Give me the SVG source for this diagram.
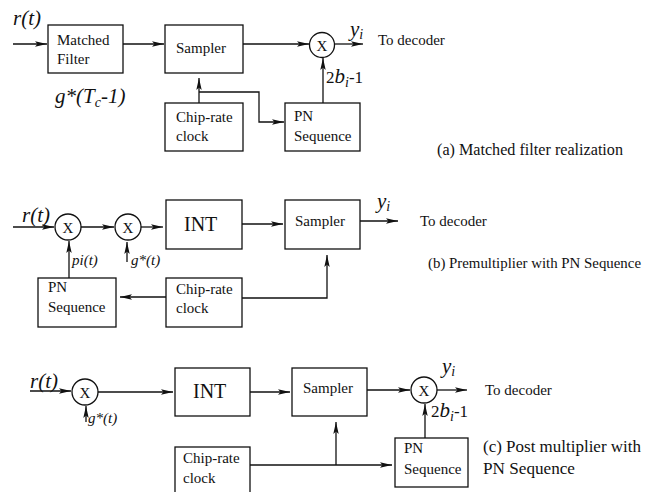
<svg xmlns="http://www.w3.org/2000/svg" width="652" height="492" viewBox="0 0 652 492">
<defs>
<marker id="ah" markerUnits="userSpaceOnUse" markerWidth="13" markerHeight="7" refX="12" refY="3.5" orient="auto">
<path d="M0,0.8 L12,3.5 L0,6.2 L2.5,3.5 z" fill="#111"/>
</marker>
<style>
.box{fill:none;stroke:#111;stroke-width:1.3}
.ar{fill:none;stroke:#111;stroke-width:1.3;marker-end:url(#ah)}
.t{font-family:"Liberation Serif",serif;font-size:15px;fill:#111}
.cap{font-family:"Liberation Serif",serif;font-size:16px;fill:#111}
.it{font-family:"Liberation Serif",serif;font-style:italic;font-size:21px;fill:#111}
.its{font-family:"Liberation Serif",serif;font-style:italic;font-size:15px;fill:#111}
.big{font-family:"Liberation Serif",serif;font-size:20px;fill:#111}
.x{font-family:"Liberation Serif",serif;font-size:15px;fill:#111;text-anchor:middle}
.sub{font-size:14px}
.bits{font-family:"Liberation Serif",serif;font-size:17px;fill:#111}
.bi{font-style:italic;font-size:21px}
.bsub{font-style:italic;font-size:14px}
</style>
</defs>
<rect width="652" height="492" fill="#fff"/>

<!-- (a) Matched filter realization -->
<g id="a-input"><text class="it" x="13" y="25">r(t)</text></g>
<g id="a-matched-filter"><rect class="box" x="48" y="25" width="75" height="48"/><text class="t" x="57" y="45">Matched</text><text class="t" x="57" y="64">Filter</text></g>
<g id="a-gt"><text class="it" x="55" y="103">g*(T<tspan class="sub" dy="4">c</tspan><tspan dy="-4">-1)</tspan></text></g>
<g id="a-sampler"><rect class="box" x="165" y="25" width="78" height="48"/><text class="t" x="176" y="53">Sampler</text></g>
<g id="a-mult"><circle class="box" cx="322" cy="45" r="12.5"/><text class="x" x="322" y="50.5">X</text></g>
<g id="a-yi"><text class="it" x="350" y="36">y<tspan class="sub" dy="3">i</tspan></text></g>
<g id="a-out"><text class="t" x="378" y="45">To decoder</text></g>
<g id="a-clock"><rect class="box" x="165" y="103" width="78" height="48"/><text class="t" x="176" y="122">Chip-rate</text><text class="t" x="176" y="141">clock</text></g>
<g id="a-pn"><rect class="box" x="285" y="103" width="75" height="48"/><text class="t" x="294" y="121">PN</text><text class="t" x="294" y="141">Sequence</text></g>
<g id="a-bits"><text class="bits" x="326" y="83">2<tspan class="bi">b</tspan><tspan class="bsub" dy="4">i</tspan><tspan dy="-4">-1</tspan></text></g>
<g id="a-caption"><text class="cap" x="437" y="155" textLength="186" lengthAdjust="spacingAndGlyphs">(a) Matched filter realization</text></g>

<!-- (b) Premultiplier -->
<g id="b-input"><text class="it" x="22" y="222">r(t)</text></g>
<g id="b-mult1"><circle class="box" cx="68" cy="227" r="13"/><text class="x" x="68" y="232.5">X</text></g>
<g id="b-mult2"><circle class="box" cx="128" cy="227" r="13"/><text class="x" x="128" y="232.5">X</text></g>
<g id="b-pit"><text class="its" x="72" y="265">pi(t)</text></g>
<g id="b-gt"><text class="its" x="131" y="265">g*(t)</text></g>
<g id="b-int"><rect class="box" x="166" y="200" width="76" height="49"/><text class="big" x="184" y="231">INT</text></g>
<g id="b-sampler"><rect class="box" x="285" y="200" width="75" height="49"/><text class="t" x="295" y="226">Sampler</text></g>
<g id="b-yi"><text class="it" x="377" y="208">y<tspan class="sub" dy="3">i</tspan></text></g>
<g id="b-out"><text class="t" x="420" y="226">To decoder</text></g>
<g id="b-caption"><text class="cap" x="428" y="268" style="font-size:14.8px" textLength="213" lengthAdjust="spacingAndGlyphs">(b) Premultiplier with PN Sequence</text></g>
<g id="b-pn"><rect class="box" x="38" y="278" width="78" height="49"/><text class="t" x="48" y="292">PN</text><text class="t" x="48" y="312">Sequence</text></g>
<g id="b-clock"><rect class="box" x="166" y="278" width="76" height="49"/><text class="t" x="176" y="294">Chip-rate</text><text class="t" x="176" y="313">clock</text></g>

<!-- (c) Post multiplier -->
<g id="c-input"><text class="it" x="30" y="388">r(t)</text></g>
<g id="c-mult1"><circle class="box" cx="85" cy="392" r="13"/><text class="x" x="85" y="397.5">X</text></g>
<g id="c-gt"><text class="its" x="88" y="423">g*(t)</text></g>
<g id="c-int"><rect class="box" x="175" y="368" width="75" height="48"/><text class="big" x="193" y="398">INT</text></g>
<g id="c-sampler"><rect class="box" x="292" y="368" width="75" height="48"/><text class="t" x="303" y="393">Sampler</text></g>
<g id="c-mult2"><circle class="box" cx="424" cy="390" r="13"/><text class="x" x="424" y="395.5">X</text></g>
<g id="c-yi"><text class="it" x="442" y="373">y<tspan class="sub" dy="3">i</tspan></text></g>
<g id="c-out"><text class="t" x="485" y="395">To decoder</text></g>
<g id="c-bits"><text class="bits" x="431" y="417">2<tspan class="bi">b</tspan><tspan class="bsub" dy="4">i</tspan><tspan dy="-4">-1</tspan></text></g>
<g id="c-pn"><rect class="box" x="395" y="438" width="73" height="49"/><text class="t" x="404" y="453">PN</text><text class="t" x="404" y="474">Sequence</text></g>
<g id="c-caption"><text class="cap" x="483" y="452" style="font-size:17px" textLength="158" lengthAdjust="spacingAndGlyphs">(c) Post multiplier with</text><text class="cap" x="483" y="474" style="font-size:17px" textLength="92" lengthAdjust="spacingAndGlyphs">PN Sequence</text></g>
<g id="c-clock"><rect class="box" x="175" y="447" width="75" height="50"/><text class="t" x="183" y="463">Chip-rate</text><text class="t" x="183" y="483">clock</text></g>

<g id="connectors">
<!-- a -->
<line class="ar" x1="13" y1="44" x2="47" y2="44"/>
<line class="ar" x1="123" y1="44" x2="164" y2="44"/>
<line class="ar" x1="243" y1="44" x2="309" y2="44"/>
<line class="ar" x1="334.5" y1="44" x2="363" y2="44"/>
<line class="ar" x1="199" y1="103" x2="199" y2="78"/>
<polyline class="ar" points="199,92 259,92 259,122 284,122"/>
<line class="ar" x1="323" y1="103" x2="323" y2="58"/>
<!-- b -->
<line class="ar" x1="13" y1="227" x2="54" y2="227"/>
<line class="ar" x1="81" y1="227" x2="114" y2="227"/>
<line class="ar" x1="141" y1="227" x2="163" y2="227"/>
<line class="ar" x1="242" y1="224" x2="283" y2="224"/>
<line class="ar" x1="360" y1="221" x2="398" y2="221"/>
<line class="ar" x1="69" y1="278" x2="69" y2="241"/>
<line class="ar" x1="127" y1="262" x2="127" y2="242"/>
<line class="ar" x1="166" y1="297" x2="120" y2="297"/>
<polyline class="ar" points="242,298 327,298 327,255"/>
<!-- c -->
<line class="ar" x1="30" y1="391" x2="71" y2="391"/>
<line class="ar" x1="98" y1="392" x2="173" y2="392"/>
<line class="ar" x1="250" y1="392" x2="290" y2="392"/>
<line class="ar" x1="367" y1="390" x2="410" y2="390"/>
<line class="ar" x1="437" y1="390" x2="467" y2="390"/>
<line class="ar" x1="86" y1="422" x2="86" y2="406"/>
<line class="ar" x1="425" y1="438" x2="425" y2="404"/>
<line class="ar" x1="250" y1="465" x2="392" y2="465"/>
<line class="ar" x1="336" y1="465" x2="336" y2="422"/>
</g>
</svg>
